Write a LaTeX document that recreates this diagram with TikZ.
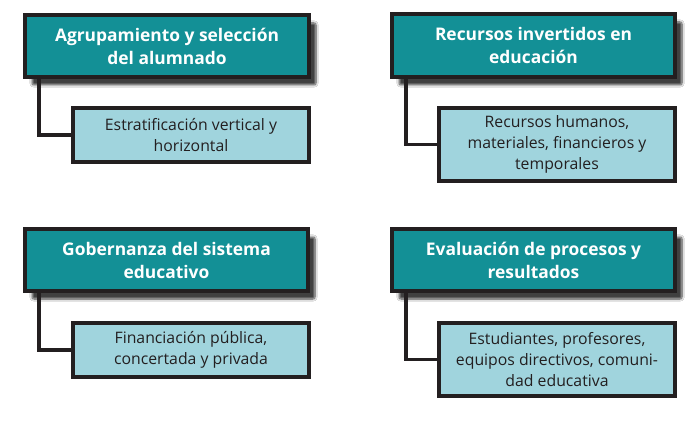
\documentclass[tikz,border=0pt]{standalone}
\usepackage{fontspec}
\setmainfont{Open Sans}
\usetikzlibrary{shadows.blur,calc}
\definecolor{teal1}{HTML}{139096}
\definecolor{teal2}{HTML}{A0D4DD}
\definecolor{edge}{HTML}{231F20}
\begin{document}
\begin{tikzpicture}[x=1pt,y=-1pt,
  headbox/.style={draw=edge,line width=4pt,fill=teal1,text=white,font=\fontsize{17.4}{23}\selectfont\bfseries,align=center,inner sep=0pt,
    blur shadow={shadow xshift=7pt,shadow yshift=-8pt,shadow blur steps=8,shadow blur extra rounding=2pt,shadow opacity=75}},
  subbox/.style={draw=edge,line width=4pt,fill=teal2,text=edge,font=\fontsize{15.8}{20.8}\selectfont,align=center,inner sep=0pt},
  conn/.style={draw=edge,line width=3.5pt}]
\useasboundingbox (0,0) rectangle (697,422);
\fill[white] (0,0) rectangle (697,422);
% top-left
\node[headbox,minimum width=284pt,minimum height=62pt] (h1) at (167,46) {Agrupamiento y selección\\del alumnado};
\node[subbox,minimum width=236pt,minimum height=54pt] (c1) at (191,135) {Estratificación vertical y\\horizontal};
\coordinate (k1) at ($(h1.south west)+(16,0)$);
\draw[conn] (k1) |- (c1.west);
% top-right
\node[headbox,minimum width=283pt,minimum height=63pt] (h2) at (533.5,45.5) {Recursos invertidos en\\educación};
\node[subbox,minimum width=236pt,minimum height=73pt] (c2) at (557,144.5) {Recursos humanos,\\materiales, financieros y\\temporales};
\coordinate (k2) at ($(h2.south west)+(16,0)$);
\draw[conn] (k2) |- (c2.west);
% bottom-left
\node[headbox,minimum width=283pt,minimum height=62pt] (h3) at (166.5,260) {Gobernanza del sistema\\educativo};
\node[subbox,minimum width=236pt,minimum height=54pt] (c3) at (191,350) {Financiación pública,\\concertada y privada};
\coordinate (k3) at ($(h3.south west)+(16,0)$);
\draw[conn] (k3) |- (c3.west);
% bottom-right
\node[headbox,minimum width=283pt,minimum height=62pt] (h4) at (533.5,260) {Evaluación de procesos y\\resultados};
\node[subbox,minimum width=236pt,minimum height=73pt] (c4) at (557,359.5) {Estudiantes, profesores,\\equipos directivos, comuni-\\dad educativa};
\coordinate (k4) at ($(h4.south west)+(16,0)$);
\draw[conn] (k4) |- (c4.west);
\end{tikzpicture}
\end{document}
